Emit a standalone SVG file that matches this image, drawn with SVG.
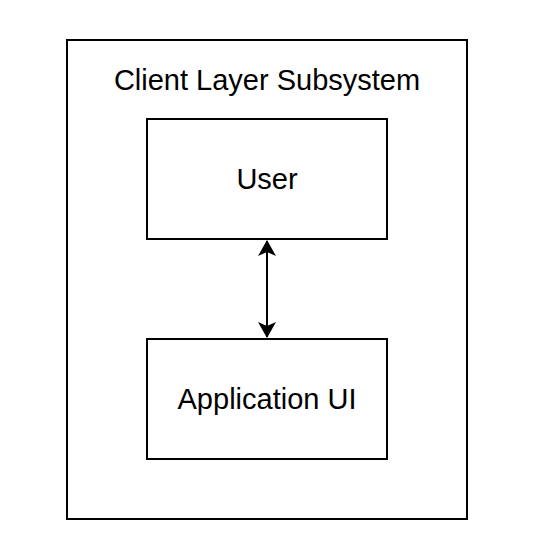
<svg xmlns="http://www.w3.org/2000/svg" width="542" height="558" viewBox="0 0 542 558">
<style>
.box{fill:#fff;stroke:#000;stroke-width:2}
.t{font-family:"Liberation Sans",Arial,Helvetica,sans-serif;font-size:29px;fill:#000;text-anchor:middle}
.c{stroke:#000;stroke-width:2;fill:none}
</style>
<defs>
<marker id="ah" viewBox="0 0 16 18" refX="15" refY="9" markerWidth="16" markerHeight="18" markerUnits="userSpaceOnUse" orient="auto-start-reverse">
<path d="M0,0 L16,9 L0,18 L4,9 Z" fill="#000"/>
</marker>
</defs>
<rect width="542" height="558" fill="#fff"/>
<g id="subsystem">
<rect class="box" x="67" y="40" width="400" height="479"/>
<text class="t" x="267" y="90">Client Layer Subsystem</text>
</g>
<g id="user">
<rect class="box" x="147" y="119" width="240" height="120"/>
<text class="t" x="267" y="189">User</text>
</g>
<g id="appui">
<rect class="box" x="147" y="339" width="240" height="120"/>
<text class="t" x="267" y="409">Application UI</text>
</g>
<g id="connectors">
<path class="c" d="M267,241 L267,337" marker-start="url(#ah)" marker-end="url(#ah)"/>
</g>
</svg>
